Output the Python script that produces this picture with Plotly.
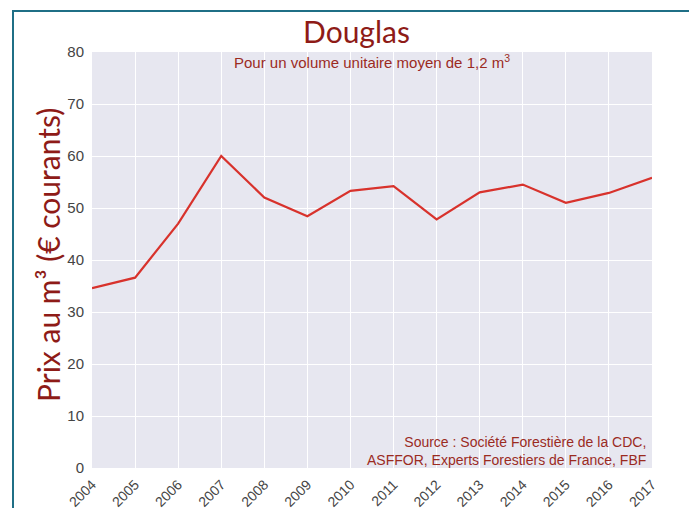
import plotly.graph_objects as go

years = [2004, 2005, 2006, 2007, 2008, 2009, 2010, 2011, 2012, 2013, 2014, 2015, 2016, 2017]
prices = [34.6, 36.6, 47.0, 60.0, 52.0, 48.4, 53.3, 54.2, 47.8, 53.0, 54.5, 51.0, 52.9, 55.8]
y_ticks = [0, 10, 20, 30, 40, 50, 60, 70, 80]

W, H = 697, 508
OFF = 8  # page body margin offset
# target plot box in screenshot pixels
X0, X1, Y0, Y1 = 92, 652, 52, 468
L, R = X0 - OFF, W - (X1 - OFF)
T, B = Y0 - OFF, H - (Y1 - OFF)
pw, ph = W - L - R, H - T - B

def px(xs):
    return (xs - OFF - L) / pw

def py(ys):
    return (H - B - (ys - OFF)) / ph

dark_red = "#8e1b17"
fig = go.Figure()
fig.add_trace(go.Scatter(x=years, y=prices, mode="lines",
                         line=dict(color="#d8322c", width=2.2), showlegend=False))

fig.update_layout(
    width=W, height=H,
    margin=dict(l=L, r=R, t=T, b=B, autoexpand=False),
    paper_bgcolor="white",
    plot_bgcolor="#e7e7f0",
    font=dict(family="Liberation Sans, Arial", color="#444444", size=14),
    title=dict(text="Douglas", x=px(372), xanchor="center", y=1 - (32 - OFF) / H, yanchor="middle",
               font=dict(family="Lato, Open Sans", size=30, color=dark_red)),
    xaxis=dict(range=[2004, 2017], tickmode="array", tickvals=years,
               ticktext=[str(y) for y in years], tickangle=-45, automargin=False,
               showgrid=True, gridcolor="white", gridwidth=1.2, zeroline=False,
               showline=False, ticks="outside", ticklen=2, tickcolor="rgba(0,0,0,0)",
               tickfont=dict(size=14, color="#444444")),
    yaxis=dict(range=[0, 80], tickmode="array", tickvals=y_ticks, automargin=False,
               showgrid=True, gridcolor="white", gridwidth=1.2, zeroline=False,
               showline=False, ticks="outside", ticklen=4, tickcolor="rgba(0,0,0,0)",
               tickfont=dict(size=15, color="#444444")),
)

fig.add_annotation(text="Prix au m³ (€ courants)", xref="paper", yref="paper",
                   x=px(48), y=py(255), xanchor="center", yanchor="middle",
                   textangle=-90, showarrow=False,
                   font=dict(family="Lato, Open Sans", size=30, color=dark_red))
fig.add_annotation(text="Pour un volume unitaire moyen de 1,2 m<sup>3</sup>", xref="paper", yref="paper",
                   x=px(372), y=py(61), xanchor="center", yanchor="middle", showarrow=False,
                   font=dict(family="Liberation Sans, Arial", size=15, color="#9b2b1f"))
fig.add_annotation(text="Source : Société Forestière de la CDC,<br>ASFFOR, Experts Forestiers de France, FBF",
                   xref="paper", yref="paper", x=px(648), y=py(451), xanchor="right", yanchor="middle",
                   align="right", showarrow=False,
                   font=dict(family="Liberation Sans, Arial", size=14, color="#9b2b1f"))

# frame border
fig.add_shape(type="path", xref="paper", yref="paper",
              path=f"M {px(13)} {py(530)} L {px(13)} {py(11)} L {px(694)} {py(11)} L {px(694)} {py(530)}",
              line=dict(color="#1f6f86", width=2))

fig.write_html("out.html")
